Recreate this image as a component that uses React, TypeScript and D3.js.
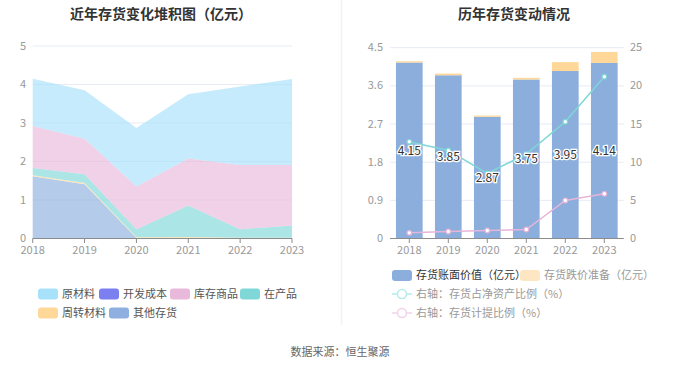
import React from 'react';
import * as d3 from 'd3';

const years = ['2018', '2019', '2020', '2021', '2022', '2023'];

// 堆积图（亿元）
const rawMaterial = [1.23, 1.26, 1.52, 1.67, 2.04, 2.23];
const devCost = [0, 0, 0, 0, 0, 0];
const finishedGoods = [1.09, 0.92, 1.11, 1.22, 1.67, 1.57];
const wip = [0.19, 0.23, 0.21, 0.82, 0.22, 0.32];
const turnover = [0.02, 0.03, 0.02, 0.03, 0.02, 0.02];
const otherStock = [1.62, 1.41, 0.01, 0.01, 0.0, 0.0];

// 历年存货变动
const bookValue = [4.15, 3.85, 2.87, 3.75, 3.95, 4.14];
const reserve = [0.03, 0.04, 0.03, 0.04, 0.21, 0.26];
const netAssetRatio = [12.67, 11.54, 8.52, 11.06, 15.3, 21.2];
const provisionRatio = [0.74, 0.92, 1.05, 1.18, 4.98, 5.86];

const leftTicks = [0, 1, 2, 3, 4, 5];
const rightLeftTicks = [0, 0.9, 1.8, 2.7, 3.6, 4.5];
const rightRightTicks = [0, 5, 10, 15, 20, 25];

const FONT = '"Noto Sans CJK SC", "Noto Sans", sans-serif';

const stackKeys = ['other', 'turnover', 'wip', 'finished', 'dev', 'raw'];
const stackColors: Record<string, string> = {
  raw: '#a8e1fa',
  dev: '#7b7ff0',
  finished: '#e8b9da',
  wip: '#7fd7d7',
  turnover: '#ffd899',
  other: '#8eafdf',
};

const App = () => {
  const W = 680;
  const H = 367;

  // left chart
  const xL = d3.scalePoint<string>().domain(years).range([32.7, 292]);
  const yL = d3.scaleLinear().domain([0, 5]).range([238.5, 46]);
  const rows = years.map((y, i) => ({
    year: y,
    raw: rawMaterial[i],
    dev: devCost[i],
    finished: finishedGoods[i],
    wip: wip[i],
    turnover: turnover[i],
    other: otherStock[i],
  }));
  const layers = d3.stack<any>().keys(stackKeys)(rows);
  const area = d3
    .area<any>()
    .x((d) => xL(d.data.year) as number)
    .y0((d) => yL(d[0]))
    .y1((d) => yL(d[1]));

  // right chart
  const xR = d3.scalePoint<string>().domain(years).range([389.8, 623.8]).padding(0.5);
  const yR = d3.scaleLinear().domain([0, 4.5]).range([238.5, 47.7]);
  const yR2 = d3.scaleLinear().domain([0, 25]).range([238.5, 47.7]);
  const barW = 26.7;
  const line1 = d3
    .line<number>()
    .x((_, i) => xR(years[i]) as number)
    .y((d) => yR2(d));

  const leftLegend = [
    { key: 'raw', label: '原材料', x: 38, y: 294 },
    { key: 'dev', label: '开发成本', x: 99, y: 294 },
    { key: 'finished', label: '库存商品', x: 170, y: 294 },
    { key: 'wip', label: '在产品', x: 240, y: 294 },
    { key: 'turnover', label: '周转材料', x: 38, y: 313 },
    { key: 'other', label: '其他存货', x: 109, y: 313 },
  ];

  return (
    <svg
      width={W}
      height={H}
      style={{ position: 'absolute', left: 0, top: 0, background: '#fff' }}
      fontFamily={FONT}
    >
      <text x={161} y={19} textAnchor="middle" fontSize={14} fontWeight="bold" fill="#333">
        近年存货变化堆积图（亿元）
      </text>
      <text x={514} y={19} textAnchor="middle" fontSize={14} fontWeight="bold" fill="#333">
        历年存货变动情况
      </text>
      <line x1={341.5} x2={341.5} y1={0} y2={325} stroke="#f2f2f2" strokeWidth={1.5} />

      {/* left chart */}
      {leftTicks.map((t) => (
        <g key={t}>
          <line x1={32.7} x2={292} y1={yL(t)} y2={yL(t)} stroke="#e6ebf5" strokeWidth={1} />
          <text x={26} y={yL(t) + 3.5} textAnchor="end" fontSize={11} fill="#999">
            {t}
          </text>
        </g>
      ))}
      {layers.map((layer) => (
        <path key={layer.key} d={area(layer) || ''} fill={stackColors[layer.key]} fillOpacity={0.65} />
      ))}
      <line x1={32.7} x2={292} y1={238.5} y2={238.5} stroke="#8c8c8c" strokeWidth={1} />
      {years.map((y) => (
        <g key={y}>
          <line x1={xL(y)} x2={xL(y)} y1={238.5} y2={243} stroke="#8c8c8c" />
          <text x={xL(y)} y={253.5} textAnchor="middle" fontSize={11} fill="#999">
            {y}
          </text>
        </g>
      ))}
      {leftLegend.map((l) => (
        <g key={l.key}>
          <rect x={l.x} y={l.y - 5.5} width={20} height={11} rx={3} fill={stackColors[l.key]} />
          <text x={l.x + 24} y={l.y + 4} fontSize={11} fill="#555">
            {l.label}
          </text>
        </g>
      ))}

      {/* right chart */}
      {rightLeftTicks.map((t, i) => (
        <g key={t}>
          <line x1={390} x2={623.8} y1={yR(t)} y2={yR(t)} stroke="#e6ebf5" strokeWidth={1} />
          <text x={383} y={yR(t) + 3.5} textAnchor="end" fontSize={11} fill="#999">
            {t}
          </text>
          <text x={630} y={yR2(rightRightTicks[i]) + 3.5} textAnchor="start" fontSize={11} fill="#999">
            {rightRightTicks[i]}
          </text>
        </g>
      ))}
      {years.map((y, i) => (
        <g key={y}>
          <rect
            x={(xR(y) as number) - barW / 2}
            y={yR(bookValue[i])}
            width={barW}
            height={yR(0) - yR(bookValue[i])}
            fill="#8caedc"
          />
          <rect
            x={(xR(y) as number) - barW / 2}
            y={yR(bookValue[i] + reserve[i])}
            width={barW}
            height={yR(bookValue[i]) - yR(bookValue[i] + reserve[i])}
            fill="#ffd899"
          />
        </g>
      ))}
      <line x1={390} x2={623.8} y1={238.5} y2={238.5} stroke="#8c8c8c" strokeWidth={1} />
      {years.map((y) => (
        <g key={y}>
          <line x1={xR(y)} x2={xR(y)} y1={238.5} y2={243} stroke="#8c8c8c" />
          <text x={xR(y)} y={253.5} textAnchor="middle" fontSize={11} fill="#999">
            {y}
          </text>
        </g>
      ))}
      <path d={line1(netAssetRatio) || ''} fill="none" stroke="#7fd6d6" strokeWidth={1.5} />
      <path d={line1(provisionRatio) || ''} fill="none" stroke="#e6b5da" strokeWidth={1.5} />
      {years.map((y, i) => (
        <g key={y}>
          <circle cx={xR(y)} cy={yR2(netAssetRatio[i])} r={2.3} fill="#fff" stroke="#7fd6d6" strokeWidth={1.2} />
          <circle cx={xR(y)} cy={yR2(provisionRatio[i])} r={2.3} fill="#fff" stroke="#e6b5da" strokeWidth={1.2} />
        </g>
      ))}
      {years.map((y, i) => (
        <text
          key={y}
          x={xR(y)}
          y={yR(bookValue[i] / 2) + 4}
          textAnchor="middle"
          fontSize={12}
          fill="#333"
          stroke="#fff"
          strokeWidth={2.5}
          paintOrder="stroke"
        >
          {bookValue[i].toFixed(2)}
        </text>
      ))}

      {/* right legend */}
      <rect x={392} y={270} width={20} height={11} rx={3} fill="#8caedc" />
      <text x={416} y={279} fontSize={11} fill="#333">
        存货账面价值（亿元）
      </text>
      <rect x={520} y={270} width={20} height={11} rx={3} fill="#ffe6c2" />
      <text x={544} y={279} fontSize={11} fill="#999">
        存货跌价准备（亿元）
      </text>
      <line x1={392} x2={412} y1={294} y2={294} stroke="#b5ebeb" strokeWidth={1.5} />
      <circle cx={402} cy={294} r={4.5} fill="#fff" stroke="#b5ebeb" strokeWidth={1.5} />
      <text x={416} y={298} fontSize={11} fill="#999">
        右轴：存货占净资产比例（%）
      </text>
      <line x1={392} x2={412} y1={313} y2={313} stroke="#f3d3ea" strokeWidth={1.5} />
      <circle cx={402} cy={313} r={4.5} fill="#fff" stroke="#f3d3ea" strokeWidth={1.5} />
      <text x={416} y={317} fontSize={11} fill="#999">
        右轴：存货计提比例（%）
      </text>

      <text x={340} y={356} textAnchor="middle" fontSize={11} fill="#666">
        数据来源：恒生聚源
      </text>
    </svg>
  );
};

export default App;
